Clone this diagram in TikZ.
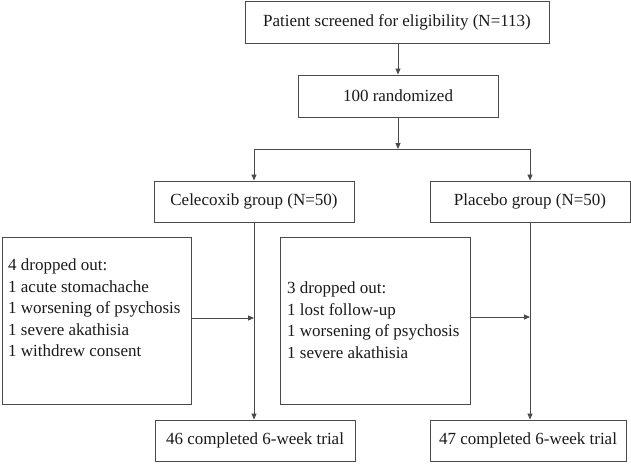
\documentclass[tikz,border=0pt]{standalone}
\usepackage{fontspec}
\setmainfont{Liberation Serif}
\usetikzlibrary{arrows.meta}
\definecolor{linec}{HTML}{4A4A4A}
\definecolor{textc}{HTML}{1A1A1A}
\begin{document}
\begin{tikzpicture}[x=1pt,y=-1pt,
  box/.style={draw=linec, line width=1pt, inner sep=0pt, rectangle,
    font=\fontsize{17}{21.5}\selectfont, text=textc},
  txt/.style={inner sep=0pt, align=left, anchor=west,
    font=\fontsize{17}{21.5}\selectfont, text=textc},
  conn/.style={draw=linec, line width=0.9pt},
  arr/.style={conn, -{Triangle[length=6pt,width=5pt]}}]
\useasboundingbox (0,0) rectangle (631,463);
\node[box, minimum width=304pt, minimum height=42pt] (top) at (397,22) {Patient screened for eligibility (N=113)};
\node[box, minimum width=200pt, minimum height=42pt] (rand) at (398,96) {100 randomized};
\node[box, minimum width=200pt, minimum height=41pt] (cel) at (254,201.5) {Celecoxib group (N=50)};
\node[box, minimum width=200pt, minimum height=41pt] (pla) at (530,201.5) {Placebo group (N=50)};
\node[box, minimum width=189pt, minimum height=167pt] (dropL) at (96.5,320.5) {};
\node[box, minimum width=190pt, minimum height=167pt] (dropR) at (375,320.5) {};
\node[txt] (dropLt) at (8,308) {4 dropped out:\\1 acute stomachache\\1 worsening of psychosis\\1 severe akathisia\\1 withdrew consent};
\node[txt] (dropRt) at (287,320) {3 dropped out:\\1 lost follow-up\\1 worsening of psychosis\\1 severe akathisia};
\node[box, minimum width=200pt, minimum height=41pt] (compL) at (255,440.5) {46 completed 6-week trial};
\node[box, minimum width=196pt, minimum height=41pt] (compR) at (528,440.5) {47 completed 6-week trial};
\coordinate (split) at (398,149);
\coordinate (sl) at (254,149);
\coordinate (sr) at (530,149);
\coordinate (jl) at (254,318);
\coordinate (jr) at (530,317);
\draw[arr] (top.south -| 398,0) -- (rand.north);
\draw[arr] (rand.south) -- (split);
\draw[conn] (sl) -- (sr);
\draw[arr] (sl) -- (cel.north);
\draw[arr] (sr) -- (pla.north);
\draw[arr] (cel.south) -- (cel.south |- compL.north);
\draw[arr] (pla.south) -- (pla.south |- compR.north);
\draw[arr] (dropL.east |- jl) -- (jl);
\draw[arr] (dropR.east |- jr) -- (jr);
\end{tikzpicture}
\end{document}
